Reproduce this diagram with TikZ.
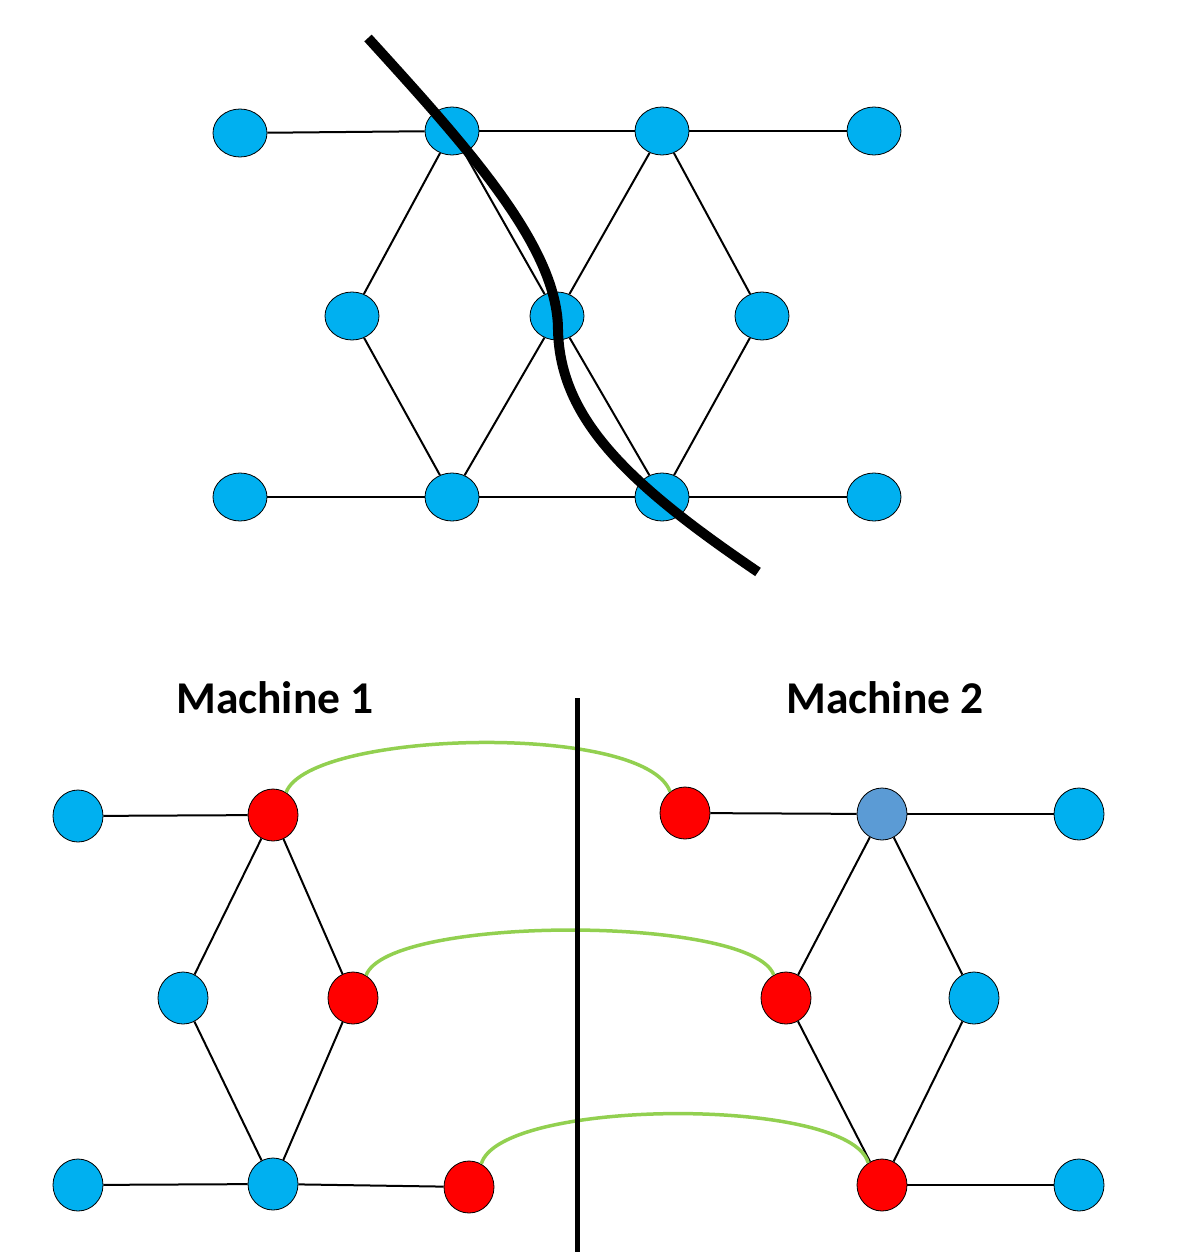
\documentclass[tikz,border=0pt]{standalone}
\usepackage{fontspec}
\setmainfont{Carlito}
\usetikzlibrary{shapes.geometric}
\definecolor{cblue}{RGB}{0,176,240}
\definecolor{csteel}{RGB}{91,155,213}
\definecolor{cred}{RGB}{255,0,0}
\definecolor{cgreen}{RGB}{146,208,80}
\tikzset{
  topnode/.style={ellipse, draw=black, line width=0.8pt, fill=cblue, minimum width=54pt, minimum height=48pt, inner sep=0pt},
  botnode/.style={ellipse, draw=black, line width=0.8pt, fill=cblue, minimum width=50pt, minimum height=52pt, inner sep=0pt},
  rednode/.style={botnode, fill=cred},
  steelnode/.style={botnode, fill=csteel},
  edge/.style={draw=black, line width=2pt},
  cut/.style={draw=black, line width=10pt},
  link/.style={draw=cgreen, line width=3.5pt},
  divider/.style={draw=black, line width=5pt},
  label/.style={font=\fontsize{45.5}{50}\selectfont\bfseries, inner sep=0pt}
}
\begin{document}
\begin{tikzpicture}[x=1pt,y=-1pt]
\useasboundingbox (0,0) rectangle (1180,1252);
% top graph
\node[topnode] (t1) at (240,133) {};
\node[topnode] (t2) at (452,131) {};
\node[topnode] (t3) at (662,131) {};
\node[topnode] (t4) at (874,131) {};
\node[topnode] (m1) at (352,316) {};
\node[topnode] (m2) at (557,316) {};
\node[topnode] (m3) at (762,316) {};
\node[topnode] (b1) at (240,497) {};
\node[topnode] (b2) at (452,497) {};
\node[topnode] (b3) at (662,497) {};
\node[topnode] (b4) at (874,497) {};
\draw[edge] (t1) -- (t2);
\draw[edge] (t2) -- (t3);
\draw[edge] (t3) -- (t4);
\draw[edge] (b1) -- (b2);
\draw[edge] (b2) -- (b3);
\draw[edge] (b3) -- (b4);
\draw[edge] (t2) -- (m1);
\draw[edge] (t2) -- (m2);
\draw[edge] (t3) -- (m2);
\draw[edge] (t3) -- (m3);
\draw[edge] (m1) -- (b2);
\draw[edge] (m2) -- (b2);
\draw[edge] (m2) -- (b3);
\draw[edge] (m3) -- (b3);
% cut curve
\coordinate (c0) at (368,38);
\coordinate (c1) at (558,330);
\coordinate (c2) at (758,572);
\draw[cut] (c0) .. controls (470,150) and (558,248) .. (c1) .. controls (560,420) and (630,485) .. (c2);
% labels
\node[label] (mach1) at (275,698) {Machine 1};
\node[label] (mach2) at (885,698) {Machine 2};
% divider
\coordinate (dtop) at (577,698);
\coordinate (dbot) at (577,1252);
% bottom left machine
\node[botnode] (a1) at (78,816) {};
\node[rednode] (a2) at (273,815) {};
\node[botnode] (a3) at (183,998) {};
\node[rednode] (a4) at (353,998) {};
\node[botnode] (a5) at (78,1185) {};
\node[botnode] (a6) at (273,1184) {};
\node[rednode] (a7) at (469,1187) {};
% bottom right machine
\node[rednode] (r1) at (685,813) {};
\node[steelnode] (r2) at (882,814) {};
\node[botnode] (r3) at (1079,814) {};
\node[rednode] (r4) at (786,998) {};
\node[botnode] (r5) at (974,998) {};
\node[rednode] (r6) at (882,1185) {};
\node[botnode] (r7) at (1079,1185) {};
\draw[edge] (a1) -- (a2);
\draw[edge] (a2) -- (a3);
\draw[edge] (a2) -- (a4);
\draw[edge] (a3) -- (a6);
\draw[edge] (a4) -- (a6);
\draw[edge] (a5) -- (a6);
\draw[edge] (a6) -- (a7);
\draw[edge] (r1) -- (r2);
\draw[edge] (r2) -- (r3);
\draw[edge] (r2) -- (r4);
\draw[edge] (r2) -- (r5);
\draw[edge] (r4) -- (r6);
\draw[edge] (r5) -- (r6);
\draw[edge] (r6) -- (r7);
% green links
\draw[link] (a2.60) .. controls (310,730) and (645,722) .. (r1.125);
\draw[link] (a4.60) .. controls (388,915) and (752,915) .. (r4.118);
\draw[link] (a7.62) .. controls (500,1098) and (850,1096) .. (r6.122);
\draw[divider] (dtop) -- (dbot);
\end{tikzpicture}
\end{document}
